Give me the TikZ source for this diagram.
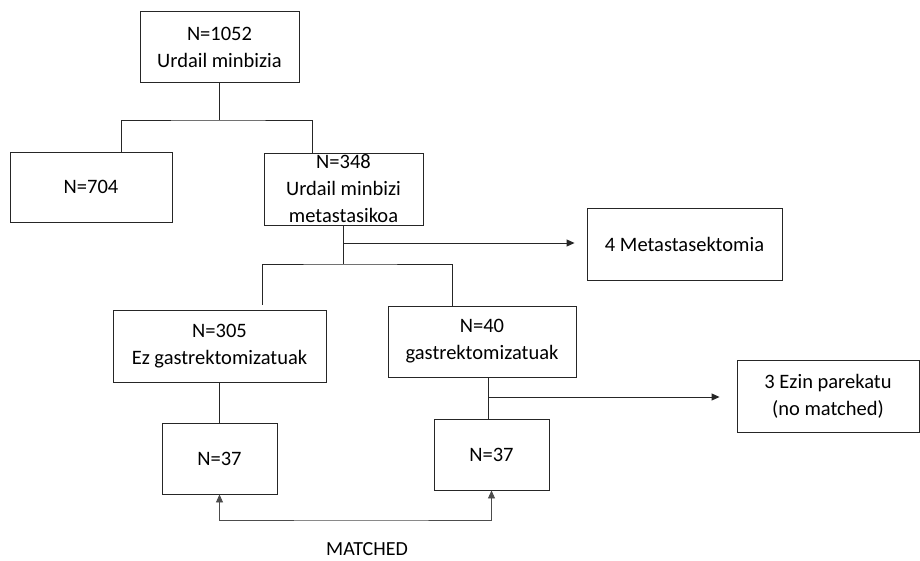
\documentclass[tikz,border=0pt]{standalone}
\usepackage{fontspec}
\setmainfont{Carlito}
\usetikzlibrary{arrows.meta,positioning}

\begin{document}
\begin{tikzpicture}[x=1pt,y=-1pt,
    box/.style={draw=black!85,line width=0.9pt,rectangle,align=center,
      font=\fontsize{20.5}{27}\selectfont,inner sep=0pt},
    link/.style={draw=black!85,line width=0.9pt},
    arr/.style={link,-{Triangle[length=8pt,width=7pt]}}]
  \useasboundingbox (0,0) rectangle (920,561);
  \node[box,minimum width=159pt,minimum height=71pt] (top) at (219.5,47) {N=1052\\Urdail minbizia};
  \node[box,minimum width=162pt,minimum height=70pt] (n704) at (91,187) {N=704};
  \node[box,minimum width=159pt,minimum height=72pt] (n348) at (343.5,189) {N=348\\Urdail minbizi\\metastasikoa};
  \node[box,minimum width=195pt,minimum height=72pt] (meta) at (684.5,244) {4 Metastasektomia};
  \node[box,minimum width=213pt,minimum height=72pt] (n305) at (219.5,346) {N=305\\Ez gastrektomizatuak};
  \node[box,minimum width=188pt,minimum height=71pt] (n40) at (482,341.5) {N=40\\gastrektomizatuak};
  \node[box,minimum width=182pt,minimum height=72pt] (ezin) at (828,396) {3 Ezin parekatu\\(no matched)};
  \node[box,minimum width=115pt,minimum height=71pt] (m37a) at (219.5,458.5) {N=37};
  \node[box,minimum width=115pt,minimum height=71pt] (m37b) at (491.5,454.5) {N=37};
  \node[font=\fontsize{20}{24}\selectfont] (matched) at (367,549) {MATCHED};

  \coordinate (j1) at (219.5,120);
  \coordinate (j2) at (343.5,264);
  \coordinate (j3) at (343.5,243);
  \coordinate (j4) at (488,397);
  \coordinate (jm) at (367,520);

  \draw[link] (top.south) -- (j1);
  \draw[link] ([xshift=30pt]n704.north) |- (j1) -| ([xshift=-31.5pt]n348.north);
  \draw[link] (n348.south) -- (j2);
  \draw[arr,shorten >=12pt] (j3) -- (j3 -| meta.west);
  \draw[link] ([xshift=42.5pt,yshift=5pt]n305.north) |- (j2) -| ([xshift=-30pt]n40.north);
  \draw[link] ([xshift=6pt]n40.south) -- ([xshift=-3.5pt]m37b.north);
  \draw[arr,shorten >=17pt] (j4) -- (j4 -| ezin.west);
  \draw[link] (n305.south) -- (m37a.north);
  \draw[arr,{Triangle[length=8pt,width=7pt]}-{Triangle[length=8pt,width=7pt]},draw=black!70] (m37a.south) |- (jm) -| (m37b.south);
\end{tikzpicture}
\end{document}
